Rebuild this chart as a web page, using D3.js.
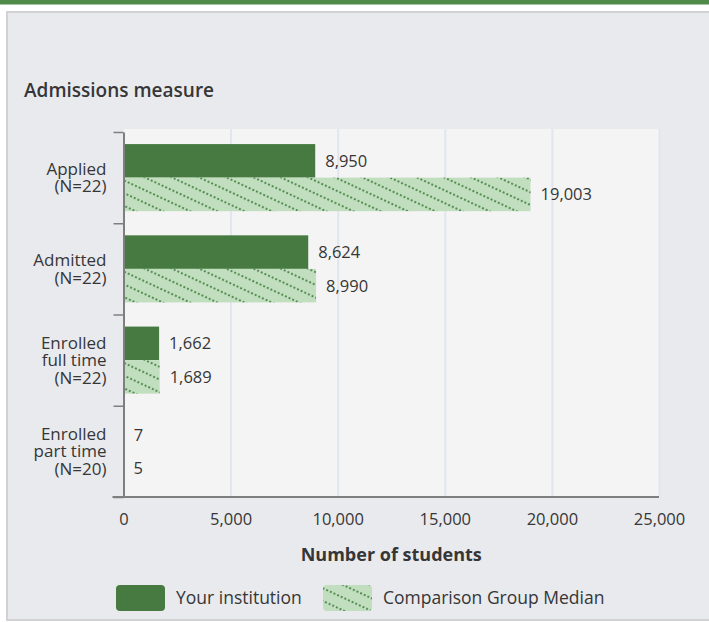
<!DOCTYPE html>
<html>
<head>
<meta charset="utf-8">
<script src="https://cdn.jsdelivr.net/npm/d3@7"></script>
<style>
  body { margin: 0; background: #fff; }
  svg text { font-family: "Open Sans", sans-serif; fill: #363636; font-weight: 500; }
</style>
</head>
<body>
<div id="container"></div>
<script>
// data
const categories = ["Applied", "Admitted", "Enrolled full time", "Enrolled part time"];
const categoryLines = [
  ["Applied", "(N=22)"],
  ["Admitted", "(N=22)"],
  ["Enrolled", "full time", "(N=22)"],
  ["Enrolled", "part time", "(N=20)"]
];
const seriesNames = ["Your institution", "Comparison Group Median"];
const yourInstitution = [8950, 8624, 1662, 7];
const comparisonMedian = [19003, 8990, 1689, 5];
const xTicks = [0, 5000, 10000, 15000, 20000, 25000];

const width = 709, height = 622;
const margin = { top: 132, right: 50, bottom: 125, left: 123.5 };

const svg = d3.select("#container").append("svg")
  .attr("width", width)
  .attr("height", height);

// dotted diagonal hatch for the comparison bars
const defs = svg.append("defs");
const pat = defs.append("pattern")
  .attr("id", "dots")
  .attr("patternUnits", "userSpaceOnUse")
  .attr("width", 4)
  .attr("height", 11.5)
  .attr("patternTransform", "rotate(25)");
pat.append("rect").attr("width", 4).attr("height", 11.5).attr("fill", "#c1dfbf");
pat.append("circle").attr("cx", 2).attr("cy", 3).attr("r", 1).attr("fill", "#3f7b3b");

// page chrome
svg.append("rect").attr("x", 0).attr("y", 0).attr("width", width).attr("height", 4.5).attr("fill", "#4f8a4b");
svg.append("rect")
  .attr("x", 7).attr("y", 12).attr("width", 740).attr("height", 608)
  .attr("fill", "#e9eaee").attr("stroke", "#d2d2d2").attr("stroke-width", 2);

svg.append("text")
  .attr("x", 24).attr("y", 97)
  .style("font-size", "19px").style("font-weight", 600)
  .text("Admissions measure");

const x = d3.scaleLinear().domain([0, 25000]).range([margin.left, width - margin.right]);
const y0 = d3.scaleBand().domain(categories).range([margin.top, height - margin.bottom]).padding(0);
const y1 = d3.scaleBand().domain(seriesNames).range([0, y0.bandwidth()]).paddingInner(0).paddingOuter(0.36);
const yEdge = d3.scaleLinear().domain([0, categories.length]).range([margin.top, height - margin.bottom]);

// plot background
svg.append("rect")
  .attr("x", x(0)).attr("y", margin.top - 3)
  .attr("width", x(25000) - x(0)).attr("height", height - margin.bottom - margin.top + 3)
  .attr("fill", "#f4f4f4");

// grid
svg.append("g")
  .attr("class", "grid")
  .attr("transform", `translate(0,${height - margin.bottom})`)
  .call(d3.axisBottom(x).tickValues(xTicks.slice(1)).tickSize(-(height - margin.bottom - margin.top + 3)).tickFormat(""))
  .call(g => g.select(".domain").remove())
  .call(g => g.selectAll("line").attr("stroke", "#e1e5ee").attr("stroke-width", 2));

// bars
const rows = categories.map((c, i) => ({ cat: c, vals: [yourInstitution[i], comparisonMedian[i]] }));
const grp = svg.append("g").selectAll("g").data(rows).join("g")
  .attr("transform", d => `translate(0,${y0(d.cat)})`);

grp.selectAll("rect").data(d => d.vals.map((v, j) => ({ s: seriesNames[j], v })))
  .join("rect")
  .attr("x", x(0))
  .attr("y", d => y1(d.s))
  .attr("width", d => x(d.v) - x(0))
  .attr("height", y1.bandwidth())
  .attr("fill", (d, j) => j === 0 ? "#467a41" : "url(#dots)");

grp.selectAll("text.val").data(d => d.vals.map((v, j) => ({ s: seriesNames[j], v })))
  .join("text")
  .attr("class", "val")
  .attr("x", d => x(d.v) + 10)
  .attr("y", d => y1(d.s) + y1.bandwidth() / 2)
  .attr("dy", "0.36em")
  .style("font-size", "16.5px")
  .text(d => d3.format(",")(d.v));

// y axis (ticks sit at the category edges)
svg.append("g")
  .attr("transform", `translate(${x(0)},0)`)
  .call(d3.axisLeft(yEdge).tickValues(d3.range(categories.length + 1)).tickSize(10).tickSizeOuter(0).tickFormat(""))
  .call(g => g.select(".domain").attr("stroke", "#7f7f7f").attr("stroke-width", 2))
  .call(g => g.selectAll("line").attr("stroke", "#7f7f7f").attr("stroke-width", 1.5));

// category labels
const lineH = 17.5;
svg.append("g").selectAll("text").data(categories).join("text")
  .attr("text-anchor", "end")
  .attr("x", x(0) - 17)
  .attr("y", (d, i) => y0(d) + y0.bandwidth() / 2 - (categoryLines[i].length - 1) * lineH / 2)
  .style("font-size", "17px")
  .selectAll("tspan").data((d, i) => categoryLines[i]).join("tspan")
  .attr("x", x(0) - 17)
  .attr("dy", (t, k) => k === 0 ? "0.36em" : lineH)
  .text(t => t);

// x axis
svg.append("line")
  .attr("x1", x(0) - 11).attr("x2", x(25000))
  .attr("y1", height - margin.bottom).attr("y2", height - margin.bottom)
  .attr("stroke", "#7f7f7f").attr("stroke-width", 2);

svg.append("g")
  .attr("transform", `translate(0,${height - margin.bottom})`)
  .call(d3.axisBottom(x).tickValues(xTicks).tickSize(0).tickPadding(16).tickFormat(d3.format(",")))
  .call(g => g.select(".domain").remove())
  .call(g => g.selectAll("text").style("font-size", "16.5px").style("fill", "#363636")
    .style("font-weight", 500).style("font-family", "'Open Sans', sans-serif"));

svg.append("text")
  .attr("x", (x(0) + x(25000)) / 2).attr("y", 561)
  .attr("text-anchor", "middle")
  .style("font-size", "18px").style("font-weight", 700)
  .text("Number of students");

// legend
const legendItems = [
  { name: seriesNames[0], fill: "#467a41", x: 116 },
  { name: seriesNames[1], fill: "url(#dots)", x: 323 }
];
const lg = svg.append("g").selectAll("g").data(legendItems).join("g")
  .attr("transform", d => `translate(${d.x},585)`);
lg.append("rect").attr("width", 49).attr("height", 26).attr("rx", 4).attr("fill", d => d.fill);
lg.append("text").attr("x", 60).attr("y", 13).attr("dy", "0.36em")
  .style("font-size", "17.5px")
  .text(d => d.name);
</script>
</body>
</html>
